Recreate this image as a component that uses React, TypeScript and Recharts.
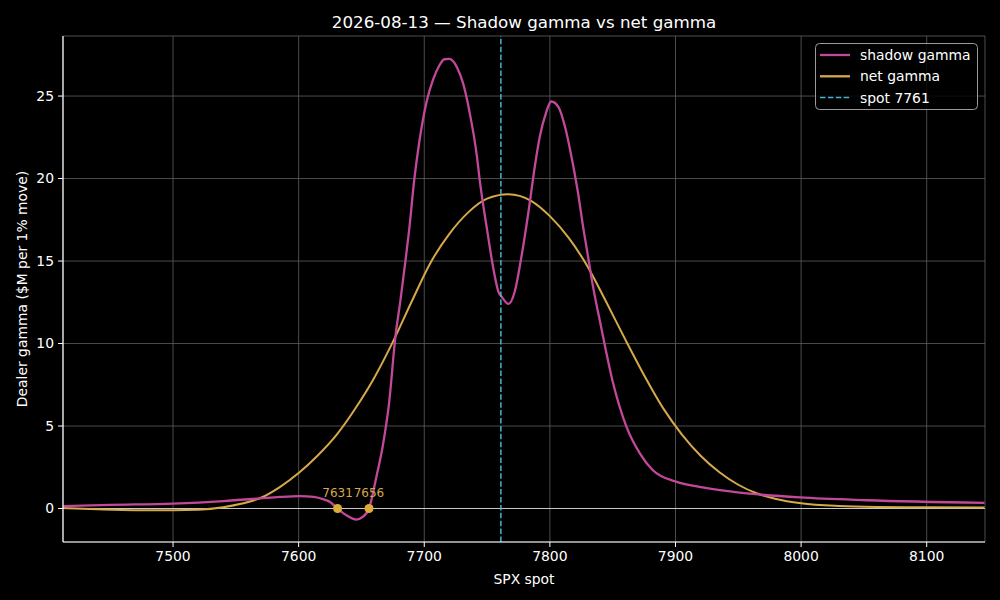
import {
  ComposedChart, Line, Scatter, XAxis, YAxis, CartesianGrid,
  ReferenceLine, LabelList,
} from 'recharts'

// shadow gamma curve
const shadowSpx = [
  7412, 7450, 7500, 7540, 7569, 7585, 7601, 7612, 7620, 7625, 7631, 7638, 7646, 7651, 7656,
  7662, 7667, 7672, 7677, 7681, 7685, 7688, 7692, 7696, 7702, 7707, 7712, 7716, 7720, 7726,
  7731, 7736, 7742, 7744, 7750, 7755, 7759, 7762, 7767, 7772, 7777, 7783, 7788, 7792, 7797,
  7801, 7807, 7812, 7817, 7823, 7826, 7830, 7834, 7840, 7850, 7861, 7872, 7882, 7901, 7919,
  7946, 7999, 8052, 8146,
]
const shadowGamma = [
  0.14, 0.22, 0.3, 0.45, 0.61, 0.7, 0.75, 0.7, 0.55, 0.4, 0, -0.41, -0.67, -0.51, 0,
  1.96, 3.8, 6.4, 10.4, 12.6, 15.0, 16.9, 19.9, 22.2, 24.7, 25.99, 26.85, 27.23, 27.25, 26.75,
  25.75, 24.05, 21.3, 20.0, 16.9, 14.55, 13.15, 12.8, 12.4, 13.14, 15.1, 18.0, 20.73, 22.55, 24.0,
  24.67, 24.32, 23.15, 21.4, 18.85, 17.3, 15.45, 13.6, 11.3, 7.7, 4.95, 3.3, 2.32, 1.61, 1.31,
  1.01, 0.67, 0.5, 0.34,
]

// net gamma curve
const netSpx = [
  7412, 7440, 7470, 7500, 7520, 7540, 7555, 7570, 7585, 7600, 7615, 7630, 7645, 7660, 7675,
  7690, 7705, 7720, 7735, 7750, 7767, 7785, 7800, 7815, 7830, 7845, 7860, 7875, 7890, 7905,
  7920, 7935, 7950, 7965, 7980, 8000, 8030, 8060, 8100, 8146,
]
const netGamma = [
  0.03, -0.05, -0.1, -0.1, -0.07, 0.08, 0.3, 0.65, 1.3, 2.15, 3.2, 4.45, 6.05, 7.9, 10.1,
  12.55, 14.9, 16.65, 17.95, 18.78, 19.05, 18.65, 17.72, 16.4, 14.67, 12.5, 10.25, 8.08, 6.1, 4.5,
  3.2, 2.2, 1.44, 0.91, 0.58, 0.32, 0.15, 0.09, 0.07, 0.06,
]

const zeroCrossings = [7631, 7656]
const spot = 7761

const xTicks = [7500, 7600, 7700, 7800, 7900, 8000, 8100]
const yTicks = [0, 5, 10, 15, 20, 25]
const xDomain = [7412.4, 8146.4]
const yDomain = [-2.03, 28.64]

const SHADOW = '#c2489a'
const NET = '#d6a94a'
const SPOT = '#45b4cf'
const FONT = 'DejaVu Sans, sans-serif'

const shadowData = shadowSpx.map((spx, i) => ({ spx, gamma: shadowGamma[i] }))
const netData = netSpx.map((spx, i) => ({ spx, gamma: netGamma[i] }))
const zeroData = zeroCrossings.map(spx => ({ spx, gamma: 0, label: String(spx) }))

const legendItems = [
  { name: 'shadow gamma', color: SHADOW, dash: undefined },
  { name: 'net gamma', color: NET, dash: undefined },
  { name: `spot ${spot}`, color: SPOT, dash: '5.5 2.4' },
]

export default function App() {
  const tickStyle = { fill: '#ffffff', fontSize: 13.9, fontFamily: FONT }

  return (
    <div style={{ position: 'absolute', left: 0, top: 0, width: 1000, height: 600, background: '#000', fontFamily: FONT }}>
      <div style={{ position: 'absolute', left: 63, top: 12, width: 922, textAlign: 'center', color: '#fff', fontSize: 16.7 }}>
        2026-08-13 — Shadow gamma vs net gamma
      </div>

      <ComposedChart width={1000} height={600} margin={{ top: 36, right: 15, left: 0, bottom: 0 }}>
        <CartesianGrid stroke="#606060" strokeWidth={0.8} />
        <XAxis
          dataKey="spx" type="number" domain={xDomain} ticks={xTicks} allowDataOverflow
          height={58} tick={tickStyle} tickSize={5} tickMargin={4}
          stroke="#ffffff" axisLine={{ stroke: '#ffffff', strokeWidth: 1.2 }} tickLine={{ stroke: '#ffffff' }}
          label={{ value: 'SPX spot', position: 'insideBottom', offset: 16, fill: '#fff', fontSize: 13.9, fontFamily: FONT }}
        />
        <XAxis
          xAxisId="top" orientation="top" type="number" domain={xDomain} allowDataOverflow
          height={0} tick={false} tickLine={false} axisLine={{ stroke: '#ffffff', strokeWidth: 1.2 }}
        />
        <YAxis
          type="number" domain={yDomain} ticks={yTicks} allowDataOverflow
          width={63} tick={tickStyle} tickSize={5} tickMargin={4}
          axisLine={{ stroke: '#ffffff', strokeWidth: 1.2 }} tickLine={{ stroke: '#ffffff' }}
          label={{
            value: 'Dealer gamma ($M per 1% move)', angle: -90, position: 'insideLeft', offset: 22,
            fill: '#fff', fontSize: 13.9, fontFamily: FONT, style: { textAnchor: 'middle' },
          }}
        />
        <YAxis
          yAxisId="right" orientation="right" type="number" domain={yDomain} allowDataOverflow
          width={0} tick={false} tickLine={false} axisLine={{ stroke: '#ffffff', strokeWidth: 1.2 }}
        />

        <ReferenceLine y={0} stroke="#c8c8c8" strokeWidth={1} />

        <Line
          data={netData} dataKey="gamma" type="monotone" stroke={NET} strokeWidth={2}
          dot={false} activeDot={false} isAnimationActive={false}
        />
        <Line
          data={shadowData} dataKey="gamma" type="monotone" stroke={SHADOW} strokeWidth={2.3}
          dot={false} activeDot={false} isAnimationActive={false}
        />

        <ReferenceLine x={spot} stroke={SPOT} strokeWidth={1.5} strokeDasharray="5.5 2.4" />

        <Scatter data={zeroData} dataKey="gamma" fill="#dcab3c" isAnimationActive={false}>
          <LabelList dataKey="label" position="top" offset={7} fill="#d6a94a" fontSize={12} fontFamily={FONT} />
        </Scatter>
      </ComposedChart>

      <svg width={1000} height={600} style={{ position: 'absolute', left: 0, top: 0, pointerEvents: 'none' }}>
        <rect x={815.5} y={43.5} width={162} height={66} rx={4} fill="#000" fillOpacity={0.8} stroke="#9a9a9a" strokeWidth={1} />
        {legendItems.map((item, i) => {
          const cy = 55 + i * 21.3
          return (
            <g key={item.name}>
              <line x1={820} x2={850} y1={cy} y2={cy} stroke={item.color} strokeWidth={item.dash ? 1.5 : 2.3} strokeDasharray={item.dash} />
              <text x={860} y={cy} dominantBaseline="central" fill="#fff" fontSize={13.9} fontFamily={FONT}>{item.name}</text>
            </g>
          )
        })}
      </svg>
    </div>
  )
}
